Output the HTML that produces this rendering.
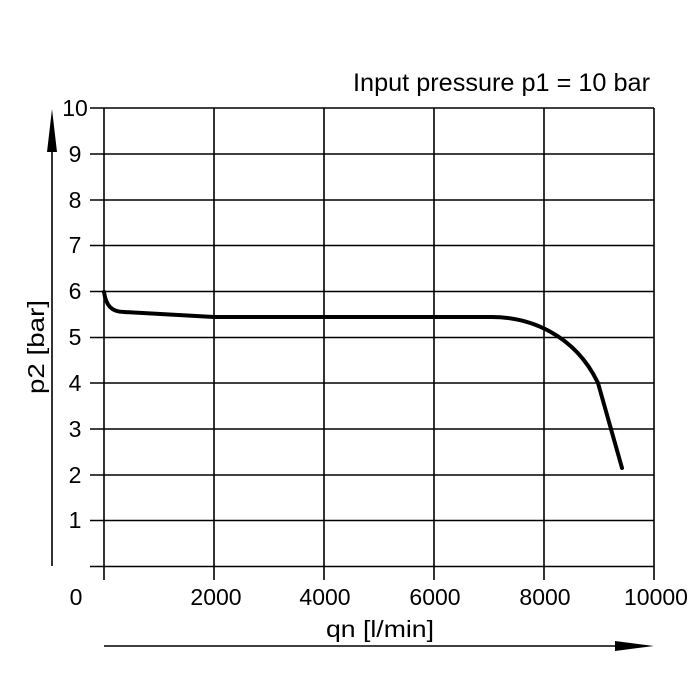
<!DOCTYPE html>
<html><head><meta charset="utf-8"><style>html,body{margin:0;padding:0;background:#fff}svg{display:block}</style></head>
<body>
<svg width="700" height="700" viewBox="0 0 700 700" xmlns="http://www.w3.org/2000/svg" font-family="Liberation Sans, DejaVu Sans, sans-serif">
<rect width="700" height="700" fill="#fff"/>
<g stroke="#000" stroke-width="1.6">
<line x1="90" y1="108" x2="654" y2="108"/>
<line x1="90" y1="154" x2="654" y2="154"/>
<line x1="90" y1="200" x2="654" y2="200"/>
<line x1="90" y1="245.5" x2="654" y2="245.5"/>
<line x1="90" y1="291.5" x2="654" y2="291.5"/>
<line x1="90" y1="337.5" x2="654" y2="337.5"/>
<line x1="90" y1="383" x2="654" y2="383"/>
<line x1="90" y1="429" x2="654" y2="429"/>
<line x1="90" y1="475" x2="654" y2="475"/>
<line x1="90" y1="520.5" x2="654" y2="520.5"/>
<line x1="90" y1="566.5" x2="654" y2="566.5"/>
<line x1="104" y1="108" x2="104" y2="580"/>
<line x1="214" y1="108" x2="214" y2="580"/>
<line x1="324" y1="108" x2="324" y2="580"/>
<line x1="434" y1="108" x2="434" y2="580"/>
<line x1="544" y1="108" x2="544" y2="580"/>
<line x1="654" y1="108" x2="654" y2="580"/>
<line x1="52" y1="145" x2="52" y2="566"/>
<line x1="104" y1="646" x2="620" y2="646"/>
</g>
<polygon points="52,109 57,152 47,152" fill="#000"/>
<polygon points="654,646 615,641 615,651" fill="#000"/>
<path d="M104,292 C106,306 112,312 124,312 L214,317 L488,317 C530,316 575,335 598,383 L622,468" fill="none" stroke="#000" stroke-width="4" stroke-linecap="round" stroke-linejoin="round"/>
<g font-size="23" fill="#000" text-anchor="middle">
<text x="75" y="116">10</text>
<text x="75" y="162">9</text>
<text x="75" y="208">8</text>
<text x="75" y="253">7</text>
<text x="75" y="299">6</text>
<text x="75" y="345">5</text>
<text x="75" y="391">4</text>
<text x="75" y="437">3</text>
<text x="75" y="483">2</text>
<text x="75" y="528">1</text>
<text x="76" y="605">0</text>
<text x="216" y="605">2000</text>
<text x="325" y="605">4000</text>
<text x="435" y="605">6000</text>
<text x="545" y="605">8000</text>
<text x="656" y="605">10000</text>
<text x="380" y="637" textLength="108" lengthAdjust="spacingAndGlyphs">qn [l/min]</text>
<text transform="translate(44,347) rotate(-90)" textLength="94" lengthAdjust="spacingAndGlyphs">p2 [bar]</text>
</g>
<text x="353" y="91" font-size="25" textLength="297" lengthAdjust="spacingAndGlyphs" fill="#000">Input pressure p1 = 10 bar</text>
</svg>
</body></html>
